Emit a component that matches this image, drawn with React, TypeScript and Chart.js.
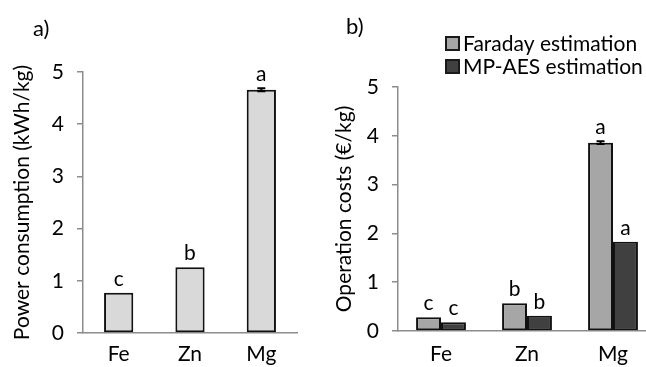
import React, { useEffect, useRef } from "react";
import { Chart, registerables } from "chart.js";

Chart.register(...registerables);

// ---- data ----
const metals = ["Fe", "Zn", "Mg"];
const yTickValues = [0, 1, 2, 3, 4, 5];

const powerValues = [0.77, 1.26, 4.66];
const powerErrors = [0, 0, 0.03];
const powerLetters = ["c", "b", "a"];

const faradayCosts = [0.28, 0.57, 3.86];
const faradayErrors = [0, 0, 0.03];
const faradayLetters = ["c", "b", "a"];

const mpaesCosts = [0.18, 0.31, 1.83];
const mpaesErrors = [0, 0, 0];
const mpaesLetters = ["c", "b", "a"];

const FONT = "Lato, 'Open Sans', sans-serif";
const TXT = "#000";

const annotatePlugin = {
  id: "annotate",
  afterDatasetsDraw(chart: any, _args: any, opts: any) {
    const ctx = chart.ctx;
    const yScale = chart.scales.y;
    ctx.save();
    (opts.series || []).forEach((s: any, di: number) => {
      const meta = chart.getDatasetMeta(di);
      const data = chart.data.datasets[di].data;
      meta.data.forEach((bar: any, j: number) => {
        const v = data[j] as number;
        const e = s.errors[j] || 0;
        const top = yScale.getPixelForValue(v + e);
        if (e > 0) {
          const bottom = yScale.getPixelForValue(v - e);
          ctx.strokeStyle = "#000";
          ctx.lineWidth = 2;
          ctx.beginPath();
          ctx.moveTo(bar.x, top);
          ctx.lineTo(bar.x, bottom);
          ctx.moveTo(bar.x - 4, top);
          ctx.lineTo(bar.x + 4, top);
          ctx.moveTo(bar.x - 4, bottom);
          ctx.lineTo(bar.x + 4, bottom);
          ctx.stroke();
        }
        ctx.fillStyle = TXT;
        ctx.font = `21px ${FONT}`;
        ctx.textAlign = "center";
        ctx.textBaseline = "alphabetic";
        ctx.fillText(s.letters[j], bar.x, top - 7);
      });
    });
    // panel label
    if (opts.panel) {
      ctx.fillStyle = TXT;
      ctx.font = `22px ${FONT}`;
      ctx.textAlign = "left";
      ctx.textBaseline = "alphabetic";
      ctx.fillText(opts.panel.text, opts.panel.x, opts.panel.y);
    }
    // legend
    if (opts.legend) {
      const L = opts.legend;
      chart.data.datasets.forEach((ds: any, i: number) => {
        const cy = L.y + i * L.rowGap;
        ctx.fillStyle = ds.backgroundColor;
        ctx.fillRect(L.x, cy - 6.5, 13, 13);
        ctx.strokeStyle = "#1a1a1a";
        ctx.lineWidth = 2;
        ctx.strokeRect(L.x, cy - 6.5, 13, 13);
        ctx.fillStyle = TXT;
        ctx.font = `21px ${FONT}`;
        ctx.textAlign = "left";
        ctx.textBaseline = "middle";
        ctx.fillText(ds.label, L.x + 17, cy + 1);
      });
    }
    ctx.restore();
  },
};

function makeOptions(p: {
  yWidth: number;
  xHeight: number;
  top: number;
  right: number;
  title: string;
  titlePad: number;
  xPad: number;
  catPct: number;
  annotate: any;
}) {
  return {
    responsive: false,
    animation: false as const,
    devicePixelRatio: 1,
    layout: { padding: { top: p.top, right: p.right, left: 0, bottom: 0 } },
    plugins: {
      legend: { display: false },
      tooltip: { enabled: false },
      annotate: p.annotate,
    },
    datasets: {
      bar: {
        categoryPercentage: p.catPct,
        barPercentage: 1,
      },
    },
    scales: {
      x: {
        type: "category" as const,
        offset: true,
        grid: { display: false, drawTicks: false },
        border: { display: true, color: "#8c8c8c", width: 1.5 },
        ticks: { color: TXT, font: { family: FONT, size: 21 }, padding: p.xPad },
        afterFit: (s: any) => {
          s.height = p.xHeight;
        },
      },
      y: {
        type: "linear" as const,
        min: 0,
        max: 5,
        afterBuildTicks: (s: any) => {
          s.ticks = yTickValues.map((v) => ({ value: v }));
        },
        grid: {
          drawOnChartArea: false,
          drawTicks: true,
          tickLength: 6,
          color: "#8c8c8c",
          lineWidth: 1.5,
        },
        border: { display: true, color: "#8c8c8c", width: 1.5 },
        ticks: { color: TXT, font: { family: FONT, size: 21 }, padding: 13 },
        title: {
          display: true,
          text: p.title,
          color: TXT,
          font: { family: FONT, size: 21 },
          padding: { top: p.titlePad, bottom: 0 },
        },
        afterFit: (s: any) => {
          s.width = p.yWidth;
        },
      },
    },
  };
}

export default function App() {
  const leftRef = useRef<HTMLCanvasElement>(null);
  const rightRef = useRef<HTMLCanvasElement>(null);

  useEffect(() => {
    const left = new Chart(leftRef.current!, {
      type: "bar",
      data: {
        labels: metals,
        datasets: [
          {
            label: "Power consumption",
            data: powerValues,
            backgroundColor: "#d9d9d9",
            borderColor: "#111",
            borderWidth: 2,
            borderSkipped: false,
          },
        ],
      },
      options: makeOptions({
        yWidth: 83,
        xHeight: 34,
        top: 72,
        right: 13,
        title: "Power consumption (kWh/kg)",
        titlePad: 10,
        xPad: 9,
        catPct: 0.41,
        annotate: {
          series: [{ errors: powerErrors, letters: powerLetters }],
          panel: { text: "a)", x: 33, y: 36 },
        },
      }) as any,
      plugins: [annotatePlugin],
    });

    const right = new Chart(rightRef.current!, {
      type: "bar",
      data: {
        labels: metals,
        datasets: [
          {
            label: "Faraday estimation",
            data: faradayCosts,
            backgroundColor: "#a6a6a6",
            borderColor: "#111",
            borderWidth: 2,
            borderSkipped: false,
          },
          {
            label: "MP-AES estimation",
            data: mpaesCosts,
            backgroundColor: "#404040",
            borderColor: "#111",
            borderWidth: 2,
            borderSkipped: false,
          },
        ],
      },
      options: makeOptions({
        yWidth: 78,
        xHeight: 36,
        top: 87,
        right: 4,
        title: "Operation costs (€/kg)",
        titlePad: 12,
        xPad: 11,
        catPct: 0.58,
        annotate: {
          series: [
            { errors: faradayErrors, letters: faradayLetters },
            { errors: mpaesErrors, letters: mpaesLetters },
          ],
          panel: { text: "b)", x: 26, y: 34 },
          legend: { x: 126, y: 43.5, rowGap: 23 },
        },
      }) as any,
      plugins: [annotatePlugin],
    });

    return () => {
      left.destroy();
      right.destroy();
    };
  }, []);

  return (
    <div
      style={{
        position: "fixed",
        left: 0,
        top: 0,
        width: 646,
        height: 367,
        overflow: "hidden",
        background: "#fff",
      }}
    >
      <div style={{ position: "absolute", left: 0, top: 0, width: 310, height: 367 }}>
        <canvas ref={leftRef} width={310} height={367} style={{ display: "block" }} />
      </div>
      <div style={{ position: "absolute", left: 320, top: 0, width: 340, height: 367 }}>
        <canvas ref={rightRef} width={340} height={367} style={{ display: "block" }} />
      </div>
    </div>
  );
}
